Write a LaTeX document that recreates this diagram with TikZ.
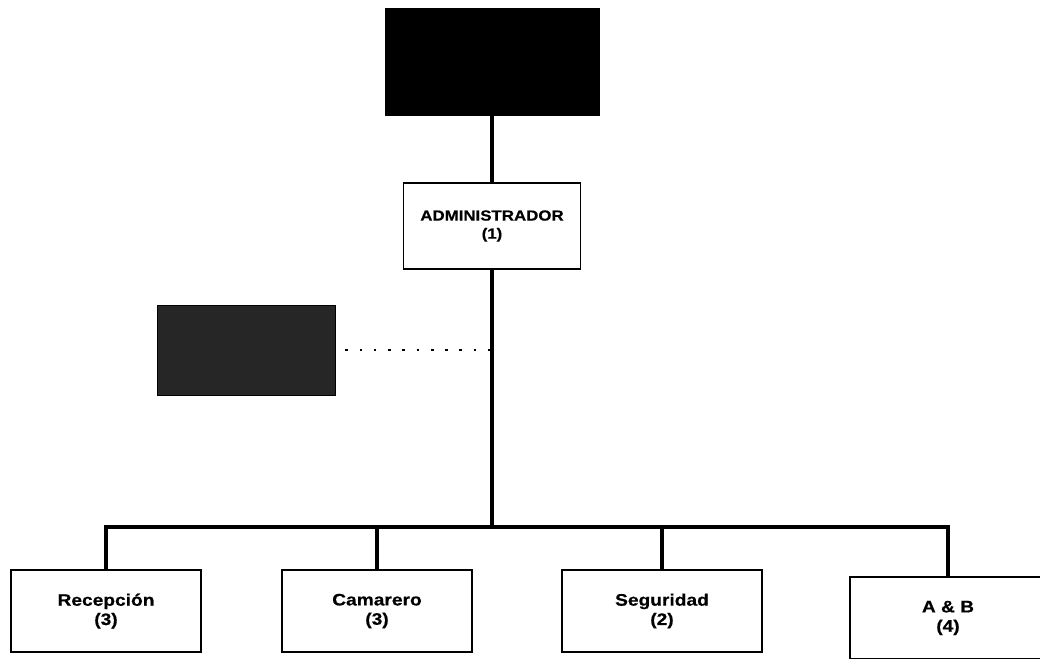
\documentclass[tikz,border=0pt]{standalone}
\usepackage{fontspec}
\setmainfont[FakeStretch=1.15, BoldFeatures={FakeBold=0.5}]{Liberation Sans}
\usetikzlibrary{positioning}

\begin{document}
\begin{tikzpicture}[
  x=0.75pt, y=-0.75pt,
  font=\fontsize{12.5}{14.5}\selectfont\bfseries,
  orgbox/.style={draw=black, line width=1pt, fill=white, align=center,
               inner sep=0pt, minimum width=#1, minimum height=61.5pt},
  darkbox/.style={draw=black, fill=#1, inner sep=0pt},
  trunk/.style={line width=3.5pt, black, line join=miter},
  dots/.style={line width=2pt, dash pattern=on 2pt off 8.7pt}
]
\useasboundingbox (0,0) rectangle (1040,658);
\clip (0,0) rectangle (1040,658);
\node[darkbox=black, minimum width=160.5pt, minimum height=80.25pt] (top) at (492,61.5) {};
\node[orgbox=132.75pt, minimum height=64.5pt, font=\fontsize{11}{13.5}\selectfont\bfseries]
  (admin) at (492,226) {ADMINISTRADOR\\(1)};
\node[darkbox=black!85, minimum width=133.5pt, minimum height=67.5pt] (staff) at (246,350) {};
\node[orgbox=142.5pt] (rec) at (106,611) {Recepción\\(3)};
\node[orgbox=142.5pt] (cam) at (377,611) {Camarero\\(3)};
\node[orgbox=150pt] (seg) at (662,611) {Seguridad\\(2)};
\node[orgbox=147pt] (ab) at (948,618) {A \& B\\(4)};
\coordinate (hub) at (492,527);
\draw[trunk] (top) -- (admin);
\draw[trunk] (admin) -- (hub);
\draw[trunk] (rec) |- (hub) -| (ab);
\draw[trunk] (cam) -- (cam |- hub);
\draw[trunk] (seg) -- (seg |- hub);
\draw[dots, shorten >=1.5pt] ([xshift=7.5pt]staff.east) -- (staff.east -| hub);
\end{tikzpicture}
\end{document}
